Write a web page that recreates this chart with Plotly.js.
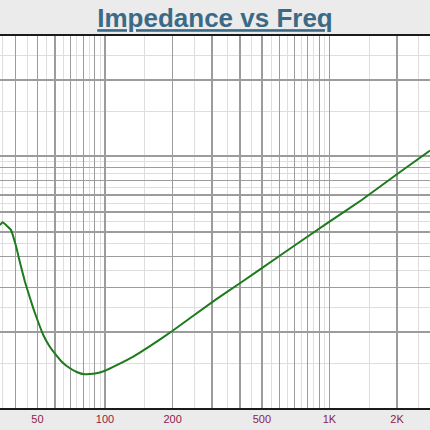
<!DOCTYPE html>
<html>
<head>
<meta charset="utf-8">
<script src="https://cdn.plot.ly/plotly-3.0.1.min.js"></script>
<style>
  html, body { margin: 0; padding: 0; background: #ebebeb; }
  #chart { width: 430px; height: 430px; }
</style>
</head>
<body>
<div id="chart"></div>
<script>
// Frequency (Hz) and impedance
const freq = [34.1, 35.0, 38.1, 40.0, 42.0, 44.0, 47.9, 50.0, 53.1, 56.5, 60.0, 63.7, 67.5, 74.8, 81.4, 90.2, 100, 112.8, 133.7, 158.6, 199.4, 309, 402, 598, 1000, 1391, 2004, 2804];
const impedance = [5.32, 5.46, 5.09, 4.44, 3.72, 3.17, 2.49, 2.235, 1.949, 1.762, 1.638, 1.536, 1.468, 1.39, 1.36, 1.37, 1.406, 1.48, 1.60, 1.76, 2.02, 2.68, 3.14, 4.01, 5.49, 6.69, 8.48, 10.5];

// Axis ticks / grid values
const xMajorVals = [40, 50, 60, 70, 80, 90, 100, 200, 300, 400, 500, 600, 700, 800, 900, 1000, 2000];
const xMajorText = ["", "50", "", "", "", "", "100", "200", "", "", "500", "", "", "", "", "1K", "2K"];
const xMinorVals = [35, 45, 55, 65, 75, 85, 95, 150, 250, 350, 450, 550, 650, 750, 850, 950, 1500, 2500];
const yMajorVals = [1, 2, 3, 4, 5, 6, 7, 8, 9, 10, 20];
const yMinorVals = [1.5, 2.5, 3.5, 4.5, 5.5, 6.5, 7.5, 8.5, 9.5, 15, 25];

const trace = {
  x: freq,
  y: impedance,
  type: 'scatter',
  mode: 'lines',
  line: { color: '#1d7a1d', width: 2, shape: 'spline', smoothing: 0.3 },
  hoverinfo: 'skip'
};

const layout = {
  width: 430,
  height: 430,
  margin: { l: 0, r: 0, t: 36, b: 22, pad: 0 },
  paper_bgcolor: '#ebebeb',
  plot_bgcolor: '#ffffff',
  showlegend: false,
  title: {
    text: '<b><u>Impedance vs Freq</u></b>',
    font: { family: 'Liberation Sans, Arial, sans-serif', size: 26, color: '#3b6a86' },
    x: 0.5, xanchor: 'center',
    y: 0.958, yanchor: 'middle', yref: 'container'
  },
  xaxis: {
    type: 'log',
    range: [1.5323, 3.4477],
    tickmode: 'array',
    tickvals: xMajorVals,
    ticktext: xMajorText,
    ticks: '',
    tickfont: { family: 'Liberation Sans, Arial, sans-serif', size: 11, color: '#8b1c4c' },
    showgrid: true,
    gridcolor: '#9c9c9c',
    gridwidth: 1.4,
    minor: { tickmode: 'array', tickvals: xMinorVals, showgrid: true, gridcolor: '#dedede', gridwidth: 1, ticks: '' },
    showline: true,
    linecolor: '#1a1a1a',
    linewidth: 2,
    mirror: true,
    zeroline: false,
    fixedrange: true
  },
  yaxis: {
    type: 'log',
    range: [0, 1.476],
    tickmode: 'array',
    tickvals: yMajorVals,
    showticklabels: false,
    ticks: '',
    showgrid: true,
    gridcolor: '#9c9c9c',
    gridwidth: 1.4,
    minor: { tickmode: 'array', tickvals: yMinorVals, showgrid: true, gridcolor: '#dedede', gridwidth: 1, ticks: '' },
    showline: false,
    zeroline: false,
    fixedrange: true
  }
};

Plotly.newPlot('chart', [trace], layout, { displayModeBar: false, staticPlot: true });
</script>
</body>
</html>
